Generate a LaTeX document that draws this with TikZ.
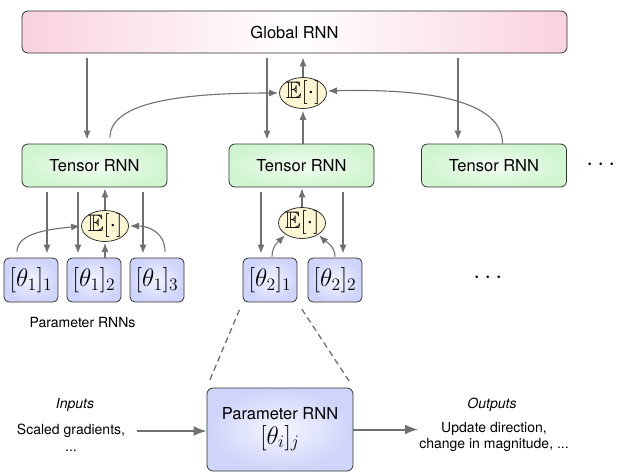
\documentclass[tikz,border=0pt]{standalone}
\usepackage{amsmath,amssymb}
\usepackage{graphicx}
\usepackage{fontspec}
\setmainfont{TeX Gyre Heros}
\usetikzlibrary{arrows.meta,shapes.geometric,calc}
\definecolor{gpink}{RGB}{250,210,223}
\definecolor{tgreen}{RGB}{208,245,208}
\definecolor{pblue}{RGB}{206,212,250}
\definecolor{ecream}{RGB}{253,246,210}
\definecolor{arrgray}{RGB}{112,112,112}
\newcommand{\bigmath}[1]{\scalebox{1.22}{$#1$}}
\newcommand{\emath}[1]{\scalebox{1.15}{$#1$}}
\begin{document}
\begin{tikzpicture}[x=1pt,y=-1pt,
  box/.style={draw=black!80, line width=0.8pt, rounded corners=6pt, inner sep=0pt},
  lab/.style={font=\fontsize{16.5}{19}\selectfont},
  small/.style={font=\fontsize{14}{15.5}\selectfont},
  gbox/.style={box, left color=gpink, right color=gpink, middle color=white, minimum width=545pt, minimum height=42pt, lab},
  tbox/.style={box, inner color=tgreen!25, outer color=tgreen, minimum width=145pt, minimum height=43pt, lab},
  pbox/.style={box, rounded corners=5pt, inner color=pblue!25, outer color=pblue, minimum width=54pt, minimum height=44pt, font=\fontsize{20.74}{24}\selectfont},
  enode/.style={ellipse, draw=black!80, line width=0.8pt, fill=ecream, inner sep=-4pt, minimum width=47pt, minimum height=31pt, font=\fontsize{20.74}{23}\selectfont},
  dotsnode/.style={font=\fontsize{28}{30}\selectfont, inner sep=0pt},
  arr/.style={draw=arrgray, line width=1.1pt, -{Latex[length=9pt,width=7pt]}, shorten <=5pt, shorten >=4pt},
  bigarr/.style={draw=arrgray, line width=2pt, -{Latex[length=13pt,width=10pt]}},
  dashline/.style={draw=arrgray, line width=1.3pt, dash pattern=on 6pt off 4pt, shorten <=8pt, shorten >=8pt}
]
\useasboundingbox (0,0) rectangle (617,472);

% nodes
\node[gbox] (G) at (294.5,32) {Global RNN};
\node[tbox] (T1) at (94.5,165.5) {Tensor RNN};
\node[tbox] (T2) at (301.5,165.5) {Tensor RNN};
\node[tbox] (T3) at (494,165.5) {Tensor RNN};
\node[dotsnode] (dots1) at (603,165) {$\cdots$};
\node[enode] (EG) at (303,93) {\emath{\mathbb{E}[\cdot]}};
\node[enode] (E1) at (105,226) {\emath{\mathbb{E}[\cdot]}};
\node[enode] (E2) at (302,223) {\emath{\mathbb{E}[\cdot]}};
\node[pbox] (p11) at (31,280) {\bigmath{[\theta_1]_1}};
\node[pbox] (p12) at (94,280) {\bigmath{[\theta_1]_2}};
\node[pbox] (p13) at (157,280) {\bigmath{[\theta_1]_3}};
\node[pbox] (p21) at (270,280) {\bigmath{[\theta_2]_1}};
\node[pbox] (p22) at (335,280) {\bigmath{[\theta_2]_2}};
\node[dotsnode] (dots2) at (490,278) {$\cdots$};
\node[small] (prnn) at (82.5,322) {Parameter RNNs};
\node[box, rounded corners=6pt, inner color=pblue!20, outer color=pblue, minimum width=146pt, minimum height=83pt, align=center, lab] (PB) at (280,429.5) {Parameter RNN\\[4pt]{\fontsize{20.74}{24}\selectfont\bigmath{[\theta_i]_j}}};
\node[small] (inl) at (75,405) {\textit{Inputs}};
\node[small] (insc) at (71,431) {Scaled gradients,};
\node[small] (indots) at (71,451) {...};
\node[small] (outl) at (492,405) {\textit{Outputs}};
\node[small, align=center] (outt) at (494,437) {Update direction,\\change in magnitude, ...};
\coordinate (oute) at (418,430);

% top connectors
\draw[arr] ([xshift=-7.5pt]T1.north |- G.south) -- ([xshift=-7.5pt]T1.north);
\draw[arr] ([xshift=-34.5pt]T2.north |- G.south) -- ([xshift=-34.5pt]T2.north);
\draw[arr] ([xshift=-36pt]T3.north |- G.south) -- ([xshift=-36pt]T3.north);
\draw[arr, shorten <=0pt] (EG.north) -- (EG.north |- G.south);
\draw[arr, shorten <=0pt, shorten >=2pt] (T2.north -| EG.south) -- (EG.south);
\draw[arr, shorten <=6pt, shorten >=1pt] ([xshift=15.5pt]T1.north) .. controls +(0,-42) and +(-96,0) .. (EG.west);
\draw[arr, shorten <=0pt, shorten >=1pt] ([xshift=8.5pt]T3.north) .. controls +(0,-50) and +(75,-2) .. ([yshift=2pt]EG.east);

% group 1
\draw[arr] ([xshift=16pt]p11.north |- T1.south) -- ([xshift=16pt]p11.north);
\draw[arr] ([xshift=-16pt]p12.north |- T1.south) -- ([xshift=-16pt]p12.north);
\draw[arr] ([xshift=-14pt]p13.north |- T1.south) -- ([xshift=-14pt]p13.north);
\draw[arr, shorten <=0pt, shorten >=1pt] (p12.north -| E1.south) -- (E1.south);
\draw[arr, shorten <=0pt, shorten >=1pt] (E1.north) -- (E1.north |- T1.south);
\draw[arr, shorten <=6pt, shorten >=1pt] ([xshift=-14pt]p11.north) .. controls +(0,-25) and +(-30,3) .. (E1.west);
\draw[arr, shorten <=6pt, shorten >=1pt] ([xshift=8pt]p13.north) .. controls +(0,-25) and +(20,0) .. (E1.east);

% group 2
\draw[arr] ([xshift=-9pt]p21.north |- T2.south) -- ([xshift=-9pt]p21.north);
\draw[arr] ([xshift=8pt]p22.north |- T2.south) -- ([xshift=8pt]p22.north);
\draw[arr, shorten <=0pt, shorten >=1pt] (E2.north) -- (E2.north |- T2.south);
\draw[arr, shorten <=1pt, shorten >=1pt] ([xshift=2pt]p21.north) .. controls +(0,-12) and +(-6,6) .. (E2.215);
\draw[arr, shorten <=1pt, shorten >=1pt] (p22.north) .. controls +(0,-12) and +(6,6) .. (E2.325);

% zoom lines
\draw[dashline] (p21.south west) -- (PB.north west);
\draw[dashline] (p21.south east) -- (PB.north east);

% bottom arrows
\draw[bigarr, shorten <=8pt] (insc.east) -- (insc.east -| PB.west);
\draw[bigarr] (PB.east) -- (PB.east -| oute);
\end{tikzpicture}
\end{document}
